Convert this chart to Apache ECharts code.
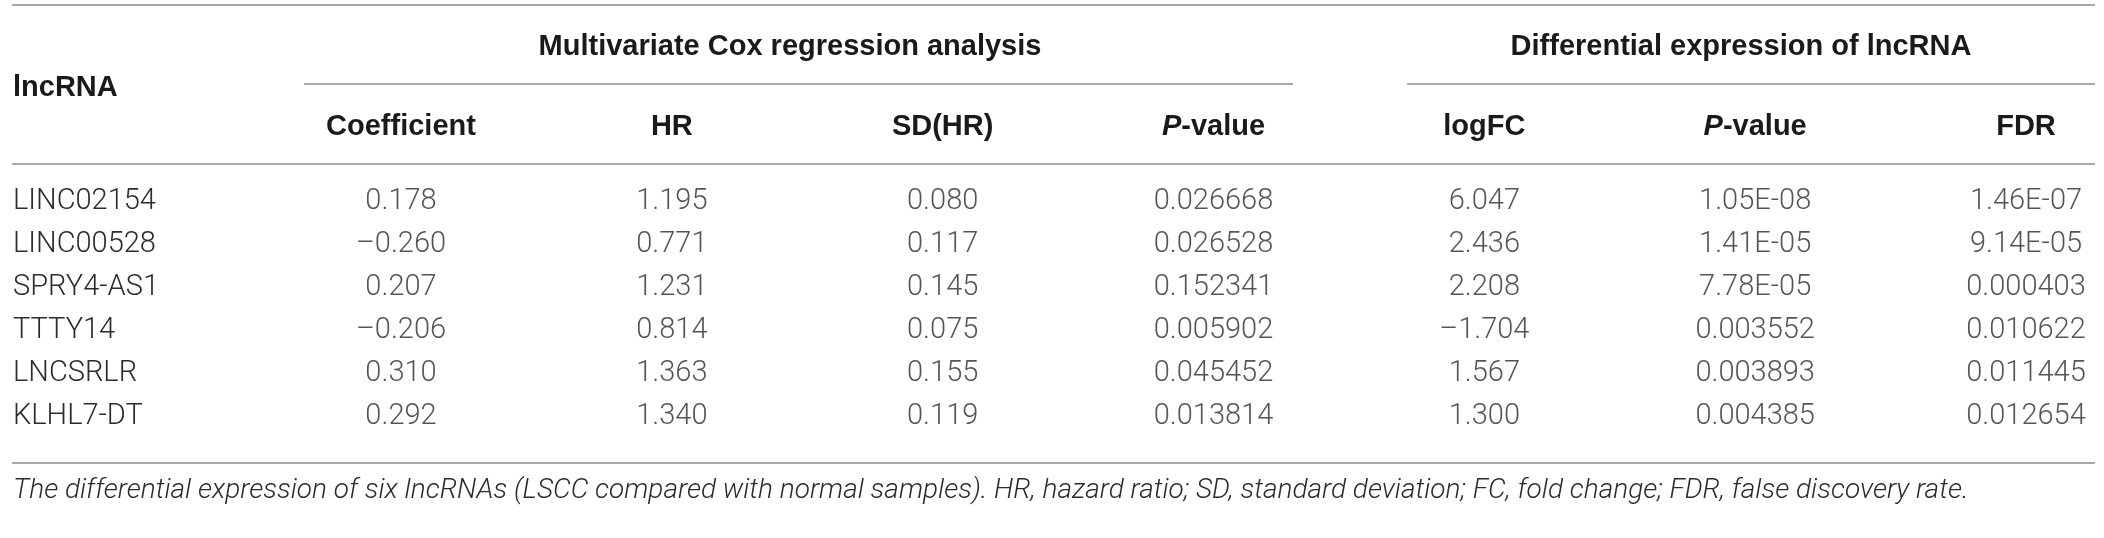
<!DOCTYPE html>
<html>
<head>
<meta charset="utf-8">
<script src="https://cdn.jsdelivr.net/npm/echarts@6/dist/echarts.min.js"></script>
<style>
  html, body { margin: 0; padding: 0; background: #fff; }
  #main { width: 2104px; height: 538px; }
</style>
</head>
<body>
<div id="main"></div>
<script>
// 行：lncRNA 名称
const lncRNAs = ['LINC02154', 'LINC00528', 'SPRY4-AS1', 'TTTY14', 'LNCSRLR', 'KLHL7-DT'];
// 列
const columns = ['coef', 'hr', 'sdHr', 'coxP', 'logFC', 'deP', 'fdr'];
const columnLabels = ['Coefficient', 'HR', 'SD(HR)', '{i|P}{b|-value}', 'logFC', '{i|P}{b|-value}', 'FDR'];
// Multivariate Cox regression analysis
const coefficient = [0.178, -0.260, 0.207, -0.206, 0.310, 0.292];
const hr = [1.195, 0.771, 1.231, 0.814, 1.363, 1.340];
const sdHr = [0.080, 0.117, 0.145, 0.075, 0.155, 0.119];
const coxP = [0.026668, 0.026528, 0.152341, 0.005902, 0.045452, 0.013814];
// Differential expression of lncRNA
const logFC = [6.047, 2.436, 2.208, -1.704, 1.567, 1.300];
const deP = [1.05e-8, 1.41e-5, 7.78e-5, 0.003552, 0.003893, 0.004385];
const fdr = [1.46e-7, 9.14e-5, 0.000403, 0.010622, 0.011445, 0.012654];

const caption = 'The differential expression of six lncRNAs (LSCC compared with normal samples). HR, hazard ratio; SD, standard deviation; FC, fold change; FDR, false discovery rate.';

// 数字格式
function fixed3(v) {
  return (v < 0 ? '\u2013' : '') + Math.abs(v).toFixed(3);
}
function pval(v) {
  if (v < 1e-4) {
    const parts = v.toExponential(2).split('e');
    const exp = parseInt(parts[1], 10);
    return parts[0] + 'E' + (exp < 0 ? '-' : '+') + String(Math.abs(exp)).padStart(2, '0');
  }
  return v.toFixed(6);
}

const colData = [
  [coefficient, fixed3],
  [hr, fixed3],
  [sdHr, fixed3],
  [coxP, pval],
  [logFC, fixed3],
  [deP, pval],
  [fdr, pval]
];

const LIGHT = 'Roboto';
const BOLD = '"Liberation Sans", Arial, sans-serif';
const TXT = '#2b2b2b';
const HEAD = '#1a1a1a';
const RULE = '#8c8c8c';

const chart = echarts.init(document.getElementById('main'), null, { renderer: 'canvas' });

const series = colData.map(function (c, ci) {
  return {
    type: 'scatter',
    symbolSize: 1,
    itemStyle: { color: 'rgba(0,0,0,0)' },
    silent: true,
    label: {
      show: true,
      position: 'inside',
      fontFamily: LIGHT,
      fontWeight: 300,
      fontSize: 29,
      color: TXT,
      formatter: function (p) { return c[1](p.value[2]); }
    },
    data: lncRNAs.map(function (name, ri) { return [columns[ci], name, c[0][ri]]; })
  };
});

function hline(x1, x2, y) {
  return { type: 'line', shape: { x1: x1, y1: y, x2: x2, y2: y }, style: { stroke: RULE, lineWidth: 1.5 }, silent: true };
}
function headText(text, x, y, align) {
  return {
    type: 'text', x: x, y: y, silent: true,
    style: { text: text, fontFamily: BOLD, fontWeight: 'bold', fontSize: 29, fill: HEAD, align: align, verticalAlign: 'middle' }
  };
}

const option = {
  backgroundColor: '#fff',
  animation: false,
  grid: { left: 401, right: 78, top: 202, bottom: 121 },
  xAxis: {
    type: 'category',
    position: 'top',
    data: columns,
    boundaryGap: false,
    axisLine: { show: false },
    axisTick: { show: false },
    splitLine: { show: false },
    axisLabel: {
      interval: 0,
      margin: 75,
      verticalAlign: 'middle',
      formatter: function (v, i) { return columnLabels[i].indexOf('{') === 0 ? columnLabels[i] : '{b|' + columnLabels[i] + '}'; },
      rich: {
        b: { fontFamily: BOLD, fontWeight: 'bold', fontSize: 29, color: HEAD },
        i: { fontFamily: BOLD, fontWeight: 'bold', fontStyle: 'italic', fontSize: 29, color: HEAD }
      }
    }
  },
  yAxis: {
    type: 'category',
    data: lncRNAs,
    inverse: true,
    boundaryGap: false,
    axisLine: { show: false },
    axisTick: { show: false },
    splitLine: { show: false },
    axisLabel: {
      interval: 0,
      align: 'left',
      margin: 388,
      fontFamily: LIGHT,
      fontWeight: 300,
      fontSize: 29,
      color: TXT
    }
  },
  graphic: [
    hline(12, 2095, 5),
    hline(304, 1293, 84),
    hline(1407, 2095, 84),
    hline(12, 2095, 164),
    hline(12, 2095, 463),
    headText('Multivariate Cox regression analysis', 790, 47, 'center'),
    headText('Differential expression of lncRNA', 1741, 47, 'center'),
    headText('lncRNA', 13, 88, 'left'),
    {
      type: 'text', x: 13, y: 491, silent: true,
      style: { text: caption, fontFamily: LIGHT, fontWeight: 300, fontStyle: 'italic', fontSize: 28, fill: TXT, align: 'left', verticalAlign: 'middle' }
    }
  ],
  series: series
};

chart.setOption(option);
</script>
</body>
</html>
